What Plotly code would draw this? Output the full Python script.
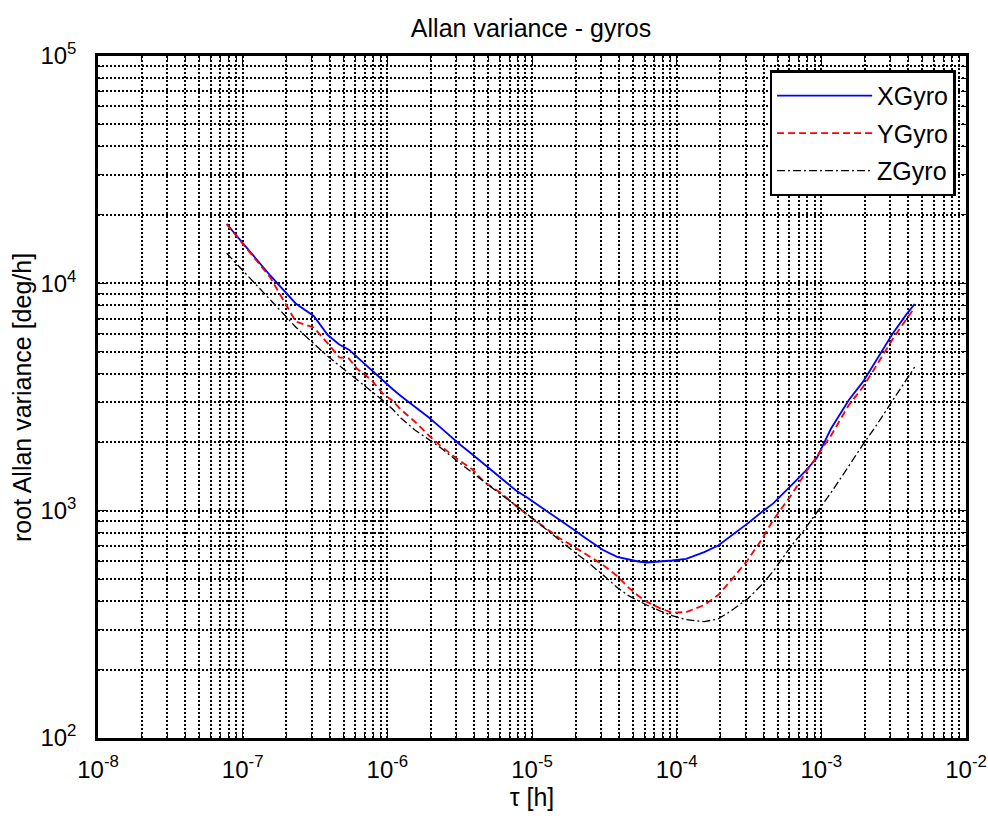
import plotly.graph_objects as go

tau_h = [7.75e-8, 1.55e-7, 2.325e-7, 3.1e-7, 3.875e-7, 4.65e-7, 5.425e-7, 6.2e-7, 7.75e-7, 9.3e-7,
         1.085e-6, 1.24e-6, 1.55e-6, 1.9375e-6, 2.325e-6, 3.1e-6, 3.875e-6, 4.65e-6, 6.2e-6, 7.75e-6,
         9.3e-6, 1.1625e-5, 1.55e-5, 1.9375e-5, 2.325e-5, 3.1e-5, 3.875e-5, 4.65e-5, 5.425e-5, 6.2e-5,
         7.75e-5, 9.3e-5, 1.1625e-4, 1.55e-4, 1.9375e-4, 2.325e-4, 3.1e-4, 3.875e-4, 4.65e-4, 6.2e-4,
         7.75e-4, 9.3e-4, 1.1625e-3, 1.55e-3, 1.9375e-3, 2.325e-3, 3.1e-3, 3.875e-3, 4.4175e-3]

x_gyro = [18240, 10830, 8155, 7183, 5925, 5381, 5107, 4727, 4137, 3729,
          3429, 3194, 2878, 2569, 2325, 1979, 1766, 1606, 1379, 1227,
          1139, 1035, 912.6, 826.3, 759.8, 671.5, 626.6, 609.7, 597.5, 591.4,
          595.7, 603.7, 614.1, 657.4, 702.6, 765.9, 879.0, 986.5, 1076, 1291,
          1494, 1704, 2287, 3070, 3684, 4444, 5986, 7300, 8114]

y_gyro = [18240, 10620, 6794, 6393, 5441, 4727, 4670, 4199, 3763, 3277,
          3043, 2786, 2462, 2141, 1933, 1674, 1520, 1340, 1188, 1048,
          959, 864.7, 756.7, 695.7, 644.8, 576.8, 516.0, 458.2, 422.3, 397.8,
          371.2, 355.7, 357.9, 384.6, 425.6, 485.6, 606.7, 748.2, 909.8, 1172,
          1464, 1739, 2130, 2916, 3499, 4199, 5661, 6968, 7791]

z_gyro = [13560, 8500, 6431, 5430, 4775, 4350, 4020, 3771, 3360, 3058,
          2800, 2556, 2263, 2060, 1896, 1637, 1464, 1337, 1168, 1056,
          964.7, 864.7, 743.0, 661.4, 606.7, 521.2, 459.6, 422.6, 400.9, 384.6,
          361.6, 345.5, 331.5, 324.9, 333.8, 359.1, 409.5, 471.9, 541.0, 699.2,
          834.7, 981.5, 1196, 1572, 1954, 2299, 3034, 3745, 4285]

series_names = ["XGyro", "YGyro", "ZGyro"]

x_tick_vals = [1e-8, 1e-7, 1e-6, 1e-5, 1e-4, 1e-3, 1e-2]
x_tick_text = ["10<sup>-8</sup>", "10<sup>-7</sup>", "10<sup>-6</sup>", "10<sup>-5</sup>",
               "10<sup>-4</sup>", "10<sup>-3</sup>", "10<sup>-2</sup>"]
y_tick_vals = [1e2, 1e3, 1e4, 1e5]
y_tick_text = ["10<sup>2</sup>", "10<sup>3</sup>", "10<sup>4</sup>", "10<sup>5</sup>"]

x_minor_vals = [m * 10.0 ** e for e in range(-8, -2) for m in range(2, 10)]
y_minor_vals = [m * 10.0 ** e for e in range(2, 5) for m in range(2, 10)]

FONT = "Liberation Sans, Arial, Helvetica, sans-serif"
FS = 25
TFS = 24

fig = go.Figure()
fig.add_trace(go.Scatter(x=tau_h, y=x_gyro, mode="lines", name=series_names[0], legendgroup="a",
                         line=dict(color="#0000ff", width=1.8)))
fig.add_trace(go.Scatter(x=tau_h, y=y_gyro, mode="lines", name=series_names[1], legendgroup="b",
                         line=dict(color="#ff0000", width=1.8, dash="7px,4px")))
fig.add_trace(go.Scatter(x=tau_h, y=z_gyro, mode="lines", name=series_names[2], legendgroup="c",
                         line=dict(color="#000000", width=1.3, dash="8px,3px,2px,3px")))

grid_style = dict(showgrid=True, gridcolor="black", griddash="2px,2px", gridwidth=1.5)

axis_common = dict(
    type="log",
    tickmode="array",
    showline=True, linecolor="black", linewidth=2.5, mirror="allticks",
    ticks="inside", ticklen=8, tickcolor="black", tickwidth=1.4,
    zeroline=False,
    automargin=False,
    ticklabeloverflow="allow",
    tickfont=dict(family=FONT, size=TFS, color="black"),
    **grid_style,
)
minor_common = dict(tickmode="array", ticks="inside", ticklen=5, tickcolor="black", tickwidth=1.2, **grid_style)

fig.update_xaxes(**axis_common, range=[-8.0001, -1.9999], ticklabelstandoff=8,
                 tickvals=x_tick_vals, ticktext=x_tick_text,
                 minor=dict(tickvals=x_minor_vals, **minor_common),
                 title=dict(text="τ [h]", font=dict(family=FONT, size=FS, color="black"), standoff=5))
fig.update_yaxes(**axis_common, range=[1.9999, 5.0001], ticklabelstandoff=14,
                 tickvals=y_tick_vals, ticktext=y_tick_text,
                 minor=dict(tickvals=y_minor_vals, **minor_common))

fig.add_annotation(text="root Allan variance [deg/h]", textangle=-90,
                   xref="paper", yref="paper", x=-0.0876, y=0.5,
                   xanchor="center", yanchor="middle", showarrow=False,
                   font=dict(family=FONT, size=FS, color="black"))

fig.update_layout(
    width=988, height=822,
    margin=dict(l=98, r=22, t=56, b=84, autoexpand=False),
    paper_bgcolor="white", plot_bgcolor="white",
    title=dict(text="Allan variance - gyros", x=0.5375, xanchor="center", y=0.966, yanchor="middle",
               font=dict(family=FONT, size=FS, color="black")),
    legend=dict(x=0.988, xanchor="right", y=0.979, yanchor="top",
                bgcolor="white", bordercolor="black", borderwidth=2.5,
                font=dict(family=FONT, size=FS, color="black"),
                itemwidth=95, tracegroupgap=2),
    showlegend=True,
)

fig.write_html("out.html")
